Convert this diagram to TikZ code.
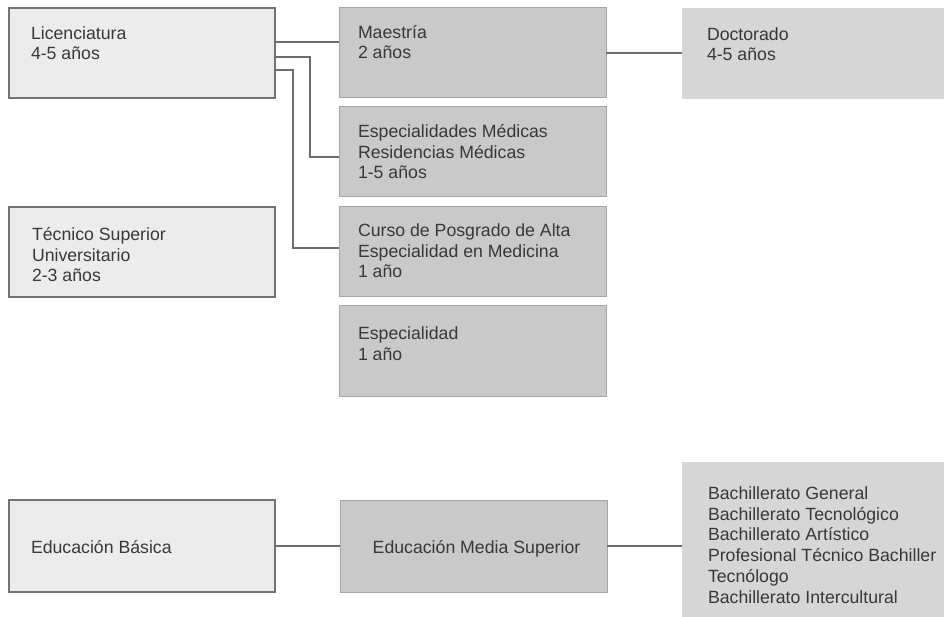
\documentclass[tikz,border=0pt]{standalone}
\usepackage{fontspec}
\setmainfont{Liberation Sans}
\usetikzlibrary{positioning}

\definecolor{palebox}{HTML}{ECECEC}
\definecolor{midbox}{HTML}{C9C9C9}
\definecolor{softbox}{HTML}{D6D6D6}
\definecolor{edgegray}{HTML}{727272}
\definecolor{midedge}{HTML}{A6A6A6}
\definecolor{linkgray}{HTML}{6C6C6C}
\definecolor{textgray}{HTML}{383838}

\begin{document}
\begin{tikzpicture} [x=1pt,y=-1pt,every node/.style={inner sep=0pt,outer sep=0pt},
  lightbox/.style={draw=edgegray,fill=palebox,line width=1.2pt,minimum width=266pt,minimum height=90pt,anchor=north west},
  darkbox/.style={draw=midedge,fill=midbox,line width=1pt,minimum width=267pt,minimum height=90pt,anchor=north west},
  softfill/.style={fill=softbox,minimum width=262pt,anchor=north west},
  txt/.style={text=textgray,font=\fontsize{17.7}{20.7}\selectfont,align=left,anchor=base west},
  link/.style={draw=linkgray,line width=1.3pt}]

\useasboundingbox (0,0) rectangle (944,617);

% upper level (shifts point at the last line's baseline)
\node[lightbox] (lic) at (9,8) {};
\node[txt] (lictext) at ([shift={(22,52)}]lic.north west) {Licenciatura\\4-5 años};
\node[lightbox] (tsu) at (9,207) {};
\node[txt] (tsutext) at ([shift={(23,75)}]tsu.north west) {Técnico Superior\\Universitario\\2-3 años};

\node[darkbox] (mae) at (339,8) {};
\node[txt] (maetext) at ([shift={(19,51)}]mae.north west) {Maestría\\2 años};
\node[darkbox] (esp) at (339,107) {};
\node[txt] (esptext) at ([shift={(19,72)}]esp.north west) {Especialidades Médicas\\Residencias Médicas\\1-5 años};
\node[darkbox] (cur) at (339,207) {};
\node[txt] (curtext) at ([shift={(19,71)}]cur.north west) {Curso de Posgrado de Alta\\Especialidad en Medicina\\1 año};
\node[darkbox] (spc) at (339,306) {};
\node[txt] (spctext) at ([shift={(19,54)}]spc.north west) {Especialidad\\1 año};

\node[softfill,minimum height=91pt] (doc) at (682,8) {};
\node[txt] (doctext) at ([shift={(25,53)}]doc.north west) {Doctorado\\4-5 años};

\coordinate (lic1) at ([shift={(0,-11)}]lic.east);
\coordinate (lic2) at ([shift={(0,4)}]lic.east);
\coordinate (lic3) at ([shift={(0,17)}]lic.east);
\draw[link](lic1)--(lic1 -| mae.west);
\draw[link](lic2)--++(35,0)|-([shift={(0,5)}]esp.west);
\draw[link](lic3)--++(18,0)|-([shift={(0,-4)}]cur.west);
\draw[link](mae.east)--(mae.east -| doc.west);

% lower level
\node[lightbox,minimum height=92pt] (edb) at (9,500) {};
\node[txt] (edbtext) at ([shift={(22,7)}]edb.west) {Educación Básica};
\node[darkbox,minimum height=92pt] (ems) at (340,500) {};
\node[txt,anchor=base] (emstext) at ([shift={(3,7)}]ems.center) {Educación Media Superior};
\node[softfill,minimum height=155pt] (bach) at (682,462) {};
\node[txt] (bachtext) at ([shift={(26,141)}]bach.north west) {Bachillerato General\\Bachillerato Tecnológico\\Bachillerato Artístico\\Profesional Técnico Bachiller\\Tecnólogo\\Bachillerato Intercultural};

\draw[link](edb.east)--(ems.west);
\draw[link](ems.east)--(ems.east -| bach.west);
\end{tikzpicture}
\end{document}
